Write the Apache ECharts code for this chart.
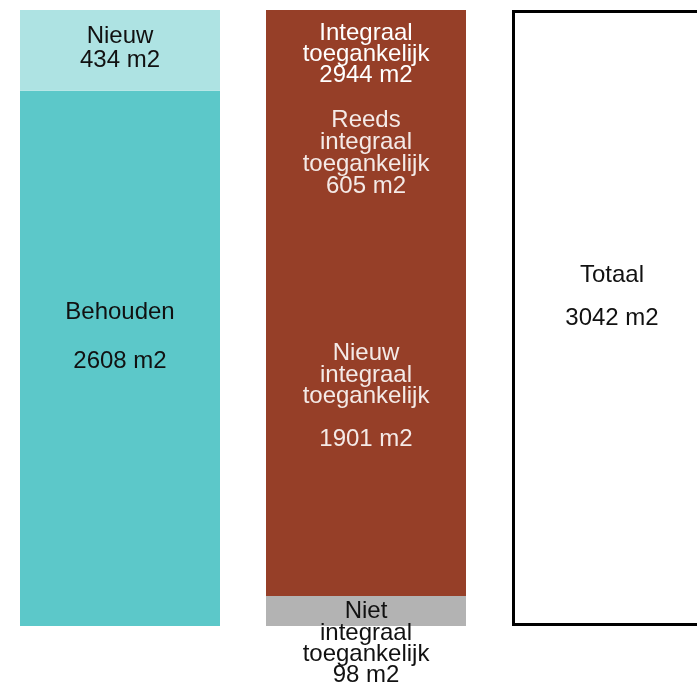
<!DOCTYPE html>
<html>
<head>
<meta charset="utf-8">
<script src="https://cdn.jsdelivr.net/npm/echarts@6/dist/echarts.min.js"></script>
<style>
  html, body { margin: 0; padding: 0; background: #fff; }
  #chart { width: 697px; height: 691px; }
</style>
</head>
<body>
<div id="chart"></div>
<script>
// Columns of the chart
const categories = ['Nieuw / Behouden', 'Toegankelijkheid', 'Totaal'];

// Surfaces in m2 as printed in the labels
const behoudenM2 = 2608;
const nieuwM2 = 434;
const integraalM2 = 2944;
const reedsIntegraalM2 = 605;
const nieuwIntegraalM2 = 1901;
const nietIntegraalM2 = 98;
const totaalM2 = 3042;

// Segment heights as measured on the reference, expressed on the 0..3042 m2 scale
// (the source does not draw the small segments exactly to scale)
const lowerHeights = [2643, 148, 3042];   // Behouden, Niet integraal, Totaal
const upperHeights = [399, 2894, null];   // Nieuw, Integraal toegankelijk

const FONT = "'Liberation Sans', Arial, Helvetica, sans-serif";
const chart = echarts.init(document.getElementById('chart'));

const darkText = { color: '#111', fontSize: 24, fontFamily: FONT };
const lightText = { color: '#fff', fontSize: 24, fontFamily: FONT };
const softText = { color: '#F4EAE7', fontSize: 24, fontFamily: FONT, opacity: 1, textBorderWidth: 0 };

const option = {
  backgroundColor: '#fff',
  animation: false,
  grid: { left: -3, top: 10, width: 738, height: 616, outerBoundsMode: 'none', containLabel: false },
  xAxis: {
    type: 'category', data: categories, show: false
  },
  yAxis: {
    type: 'value', min: 0, max: totaalM2, show: false
  },
  series: [
    {
      name: 'onder', type: 'bar', stack: 'kol', barWidth: 200,
      data: [
        {
          value: lowerHeights[0],
          itemStyle: { color: '#5CC8C9' },
          label: Object.assign({ show: true, position: 'inside', offset: [0, -22], lineHeight: 24.5,
            formatter: 'Behouden\n\n' + behoudenM2 + ' m2' }, darkText)
        },
        {
          value: lowerHeights[1],
          itemStyle: { color: '#B3B3B3' },
          label: Object.assign({ show: true, position: 'insideTop', distance: 5, lineHeight: 21.3,
            formatter: 'Niet\nintegraal\ntoegankelijk\n' + nietIntegraalM2 + ' m2' }, darkText)
        },
        {
          value: lowerHeights[2],
          itemStyle: { color: '#fff', borderColor: '#000', borderWidth: 3 },
          label: Object.assign({ show: true, position: 'inside', offset: [0, -21], lineHeight: 21.7,
            formatter: 'Totaal\n\n' + totaalM2 + ' m2' }, darkText)
        }
      ]
    },
    {
      name: 'boven', type: 'bar', stack: 'kol', barWidth: 200,
      data: [
        {
          value: upperHeights[0],
          itemStyle: { color: '#AEE3E3' },
          label: Object.assign({ show: true, position: 'inside', offset: [0, -2], lineHeight: 24.3,
            formatter: 'Nieuw\n' + nieuwM2 + ' m2' }, darkText)
        },
        {
          value: upperHeights[1],
          itemStyle: { color: '#963F28' },
          label: Object.assign({ show: true, position: 'insideTop', distance: 12.5, lineHeight: 21.3,
            formatter: 'Integraal\ntoegankelijk\n' + integraalM2 + ' m2' }, lightText)
        },
        '-'
      ]
    },
    {
      name: 'annotaties', type: 'scatter', symbolSize: 0, silent: true,
      itemStyle: { color: 'rgba(0,0,0,0)' },
      data: [
        {
          value: [1, 2336],
          label: Object.assign({ show: true, position: 'inside', lineHeight: 22,
            formatter: 'Reeds\nintegraal\ntoegankelijk\n' + reedsIntegraalM2 + ' m2' }, softText)
        },
        {
          value: [1, 1133],
          label: Object.assign({ show: true, position: 'inside', lineHeight: 21.65,
            formatter: 'Nieuw\nintegraal\ntoegankelijk\n\n' + nieuwIntegraalM2 + ' m2' }, softText)
        }
      ]
    }
  ]
};
chart.setOption(option);
</script>
</body>
</html>
